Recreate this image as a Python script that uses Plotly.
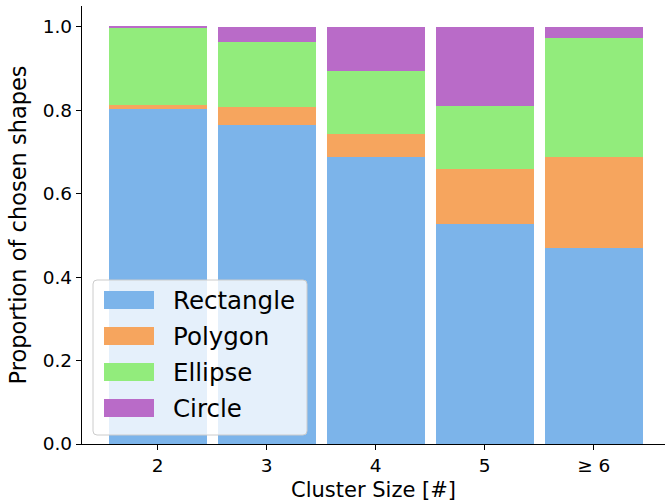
import plotly.graph_objects as go

# Share of each shape type chosen, per cluster size (stacked to 1.0)
cluster_sizes = ["2", "3", "4", "5", "≥ 6"]
rectangle = [0.802, 0.765, 0.687, 0.528, 0.471]
polygon = [0.011, 0.042, 0.057, 0.131, 0.217]
ellipse = [0.185, 0.157, 0.150, 0.152, 0.286]
circle = [0.002, 0.036, 0.106, 0.189, 0.026]

series_names = ["Rectangle", "Polygon", "Ellipse", "Circle"]
series_values = [rectangle, polygon, ellipse, circle]
series_colors = ["#7cb4ea", "#f6a55e", "#92ec7c", "#b96bc8"]

y_ticks = [0.0, 0.2, 0.4, 0.6, 0.8, 1.0]

FONT = "DejaVu Sans"
W, H = 665, 503
ML, MR, MT, MB = 82, 0, 6, 59
plot_w = W - ML - MR
plot_h = H - MT - MB

x_pos = list(range(len(cluster_sizes)))

fig = go.Figure()
for name, vals, col in zip(series_names, series_values, series_colors):
    fig.add_trace(go.Bar(
        x=x_pos, y=vals, name=name, width=0.9,
        marker=dict(color=col, line=dict(width=0)),
        showlegend=False,
    ))


def px_x(p):
    return (p - ML) / plot_w


def px_y(p):
    return (H - MB - p) / plot_h


# Legend panel with translucent background
shapes = []
annotations = []
lx0, lx1, ly0, ly1, r = 93, 307, 280, 435, 4
path = (
    f"M {px_x(lx0 + r)} {px_y(ly0)} L {px_x(lx1 - r)} {px_y(ly0)} "
    f"Q {px_x(lx1)} {px_y(ly0)} {px_x(lx1)} {px_y(ly0 + r)} "
    f"L {px_x(lx1)} {px_y(ly1 - r)} "
    f"Q {px_x(lx1)} {px_y(ly1)} {px_x(lx1 - r)} {px_y(ly1)} "
    f"L {px_x(lx0 + r)} {px_y(ly1)} "
    f"Q {px_x(lx0)} {px_y(ly1)} {px_x(lx0)} {px_y(ly1 - r)} "
    f"L {px_x(lx0)} {px_y(ly0 + r)} "
    f"Q {px_x(lx0)} {px_y(ly0)} {px_x(lx0 + r)} {px_y(ly0)} Z"
)
shapes.append(dict(
    type="path", xref="paper", yref="paper", path=path,
    fillcolor="rgba(255,255,255,0.8)", line=dict(color="#cccccc", width=1),
    layer="above",
))
for i, (name, col) in enumerate(zip(series_names, series_colors)):
    cy = 300 + 36 * i
    shapes.append(dict(
        type="rect", xref="paper", yref="paper",
        x0=px_x(104), x1=px_x(154), y0=px_y(cy - 9), y1=px_y(cy + 9),
        fillcolor=col, line=dict(width=0), layer="above",
    ))
    annotations.append(dict(
        xref="paper", yref="paper", x=px_x(171), y=px_y(cy),
        text=name, showarrow=False, xanchor="left", yanchor="middle",
        font=dict(family=FONT, size=24.5, color="black"),
    ))

fig.update_layout(
    width=W, height=H,
    margin=dict(l=ML, r=MR, t=MT, b=MB, pad=0),
    paper_bgcolor="white", plot_bgcolor="white",
    barmode="stack",
    font=dict(family=FONT, color="black"),
    shapes=shapes, annotations=annotations,
    xaxis=dict(
        range=[-0.695, -0.695 + plot_w / 109.0],
        tickmode="array", tickvals=x_pos, ticktext=cluster_sizes,
        tickfont=dict(size=18.5), ticks="outside", ticklen=5, tickcolor="black",
        showline=True, linecolor="black", linewidth=1.3,
        showgrid=False, zeroline=False,
        title=dict(text="Cluster Size [#]", font=dict(size=21), standoff=6),
    ),
    yaxis=dict(
        range=[0, 1.05],
        tickmode="array", tickvals=y_ticks, tickformat=".1f",
        tickfont=dict(size=18.5), ticks="outside", ticklen=5, tickcolor="black",
        showline=True, linecolor="black", linewidth=1.3,
        showgrid=False, zeroline=False,
        title=dict(text="Proportion of chosen shapes", font=dict(size=22.5), standoff=9),
    ),
)

fig.write_html("out.html")
